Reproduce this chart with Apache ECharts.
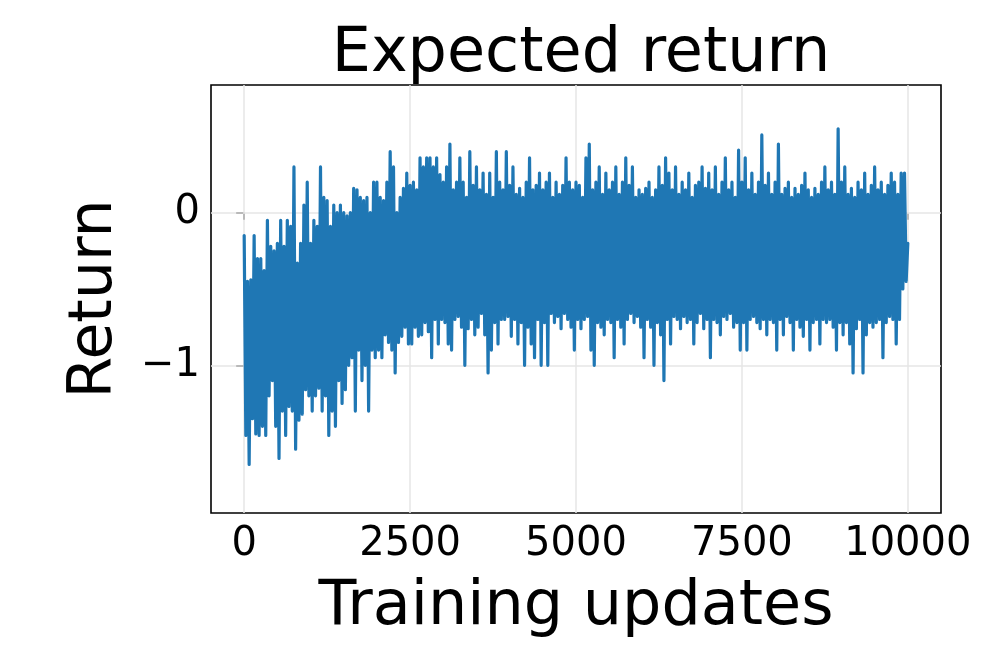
<!DOCTYPE html>
<html>
<head>
<meta charset="utf-8">
<title>Expected return</title>
<script src="https://cdn.jsdelivr.net/npm/echarts@6/dist/echarts.min.js"></script>
<style>
  html, body { margin: 0; padding: 0; background: #fff; }
  #main { width: 997px; height: 664px; }
</style>
</head>
<body>
<div id="main"></div>
<script>
// sampling step of the logged curve (training updates between samples)
const step = 25;

// mean return, one value per sample (rows of 500 updates)
const returns = [
  -0.15, -1.46, -0.45, -1.65, -0.44, -1.35, -0.15, -1.45, -0.30, -1.46, -0.30, -1.40, -0.38, -1.46, -0.05, -1.20, -0.22, -1.10, -0.25, -1.40,
  -0.20, -1.61, -0.05, -1.30, -0.22, -1.46, -0.05, -1.27, -0.09, -1.30,  0.30, -1.55, -0.33, -1.36, -0.20, -1.32,  0.05, -1.16,  0.20, -1.20,
  -0.20, -1.30, -0.05, -1.20, -0.09, -1.15,  0.30, -1.30,  0.10, -1.20,  0.08, -1.46, -0.09, -1.30,  0.05, -1.40,  0.00, -1.10,  0.05, -1.25,
   0.00, -1.16, -0.02, -1.00,  0.00, -0.95,  0.16, -1.30,  0.15, -0.90,  0.10, -1.10,  0.08, -1.00,  0.10, -1.30,  0.00, -0.90,  0.20, -0.95,
   0.20, -0.90,  0.10, -0.95,  0.08, -0.80,  0.20, -0.85,  0.40, -0.90,  0.30, -1.05,  0.00, -0.85,  0.10, -0.81,  0.16, -0.75,  0.26, -0.86,
   0.18, -0.86,  0.20, -0.75,  0.15, -0.81,  0.36, -0.80,  0.30, -0.72,  0.36, -0.78,  0.36, -0.95,  0.30, -0.70,  0.36, -0.86,  0.25, -0.70,
   0.20, -0.72,  0.30, -0.86,  0.45, -0.90,  0.15, -0.70,  0.20, -0.68,  0.36, -0.75,  0.20, -1.00,  0.10, -0.76,  0.40, -0.70,  0.18, -0.80,
   0.30, -0.75,  0.15, -0.66,  0.26, -0.80,  0.12, -1.05,  0.26, -0.90,  0.10, -0.72,  0.40, -0.86,  0.20, -0.70,  0.15, -0.70,  0.40, -0.68,
   0.18, -0.81,  0.30, -0.70,  0.12, -0.86,  0.16, -0.72,  0.10, -1.00,  0.20, -0.75,  0.36, -0.86,  0.15, -0.95,  0.18, -0.70,  0.26, -1.00,
   0.15, -0.72,  0.20, -1.00,  0.26, -0.66,  0.10, -0.72,  0.20, -0.68,  0.12, -0.76,  0.18, -0.66,  0.36, -0.70,  0.20, -0.75,  0.15, -0.90,
   0.20, -0.70,  0.18, -0.76,  0.10, -0.70,  0.36, -0.68,  0.45, -0.90,  0.15, -1.00,  0.20, -0.72,  0.30, -0.75,  0.12, -0.80,  0.26, -0.70,
   0.15, -0.72,  0.20, -0.95,  0.30, -0.70,  0.12, -0.75,  0.20, -0.86,  0.36, -0.70,  0.18, -0.66,  0.30, -0.72,  0.10, -0.68,  0.15, -0.75,
   0.12, -0.95,  0.16, -0.70,  0.20, -0.75,  0.10, -1.00,  0.15, -0.72,  0.30, -0.80,  0.18, -1.10,  0.36, -0.70,  0.26, -0.86,  0.15, -0.68,
   0.30, -0.70,  0.12, -0.76,  0.20, -0.68,  0.15, -0.72,  0.26, -0.70,  0.10, -0.86,  0.18, -0.72,  0.20, -0.66,  0.30, -0.76,  0.16, -0.70,
   0.26, -0.95,  0.15, -0.70,  0.30, -0.72,  0.12, -0.80,  0.20, -0.68,  0.36, -0.70,  0.15, -0.66,  0.20, -0.75,  0.10, -0.72,  0.41, -0.90,
   0.20, -0.72,  0.36, -0.90,  0.15, -0.70,  0.26, -0.68,  0.12, -0.72,  0.20, -0.76,  0.51, -0.70,  0.18, -0.80,  0.26, -0.70,  0.12, -0.72,
   0.20, -0.90,  0.45, -0.70,  0.12, -0.80,  0.16, -0.68,  0.20, -0.72,  0.10, -0.90,  0.16, -0.70,  0.12, -0.75,  0.18, -0.81,  0.26, -0.70,
   0.15, -0.90,  0.10, -0.72,  0.16, -0.70,  0.12, -0.86,  0.20, -0.70,  0.30, -0.72,  0.15, -0.70,  0.20, -0.75,  0.12, -0.90,  0.55, -0.72,
   0.20, -0.80,  0.30, -0.72,  0.12, -0.86,  0.16, -1.05,  0.10, -0.76,  0.20, -0.70,  0.15, -1.05,  0.26, -0.80,  0.12, -0.72,  0.18, -0.75,
   0.30, -0.72,  0.15, -0.70,  0.20, -0.95,  0.12, -0.72,  0.18, -0.68,  0.26, -0.70,  0.20, -0.86,  0.12, -0.70,  0.26, -0.50,  0.26, -0.45,
  -0.20
];

const xTicks = [0, 2500, 5000, 7500, 10000];
const yTicks = [-1, 0];

const points = returns.map((v, i) => [i * step, v]);

const chart = echarts.init(document.getElementById('main'));

chart.setOption({
  animation: false,
  textStyle: { fontFamily: 'DejaVu Sans' },
  title: {
    text: 'Expected return',
    left: 576,
    textAlign: 'center',
    top: 19,
    textStyle: { fontSize: 62, fontWeight: 'normal', color: '#000', fontFamily: 'DejaVu Sans' }
  },
  grid: {
    left: 211,
    right: 56,
    top: 85,
    bottom: 151,
    show: true,
    borderColor: '#000',
    borderWidth: 1.6,
    backgroundColor: 'transparent'
  },
  xAxis: {
    type: 'value',
    min: -500,
    max: 10500,
    name: 'Training updates',
    nameLocation: 'middle',
    nameGap: 64,
    nameTextStyle: { fontSize: 62, color: '#000', fontFamily: 'DejaVu Sans' },
    axisLine: { show: false },
    axisTick: { show: true, customValues: xTicks, length: 7, lineStyle: { color: '#000', width: 1.6 } },
    axisLabel: {
      customValues: xTicks,
      fontSize: 40,
      color: '#000',
      margin: 12,
      fontFamily: 'DejaVu Sans',
      formatter: v => String(v)
    },
    splitLine: { show: false }
  },
  yAxis: {
    type: 'value',
    min: -1.968,
    max: 0.837,
    name: 'Return',
    nameLocation: 'middle',
    nameGap: 86,
    nameTextStyle: { fontSize: 60, color: '#000', fontFamily: 'DejaVu Sans' },
    axisLine: { show: false },
    axisTick: { show: true, customValues: yTicks, length: 8, lineStyle: { color: '#000', width: 1.6 } },
    axisLabel: {
      customValues: yTicks,
      fontSize: 40,
      color: '#000',
      margin: 11,
      fontFamily: 'DejaVu Sans',
      formatter: v => (v < 0 ? '\u2212' + Math.abs(v) : String(v))
    },
    splitLine: { show: false }
  },
  series: [
    {
      // grid lines, kept under the curve
      type: 'line',
      data: [],
      silent: true,
      z: 1,
      markLine: {
        silent: true,
        z: 1,
        symbol: 'none',
        label: { show: false },
        lineStyle: { color: '#e6e6e6', width: 1.5, type: 'solid' },
        data: xTicks.map(v => ({ xAxis: v })).concat(yTicks.map(v => ({ yAxis: v })))
      }
    },
    {
      name: 'Return',
      type: 'line',
      data: points,
      showSymbol: false,
      symbol: 'none',
      z: 3,
      lineStyle: { color: '#1f77b4', width: 3.2, join: 'round', cap: 'round' }
    }
  ]
});
</script>
</body>
</html>
